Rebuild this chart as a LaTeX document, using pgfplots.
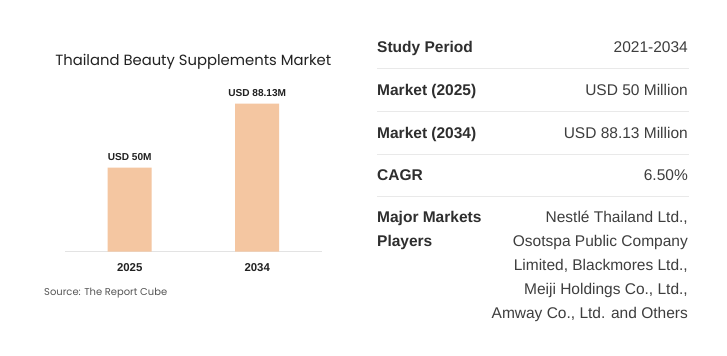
\documentclass[border=0pt]{standalone}
\usepackage{fontspec}
\setmainfont{Liberation Sans}
\newfontfamily\titlefont{Poppins}
\usepackage{pgfplots}
\pgfplotsset{compat=1.18}
\definecolor{barc}{HTML}{F4C6A1}
\definecolor{labc}{HTML}{2E2E2E}
\definecolor{valc}{HTML}{3E3E3E}
\definecolor{rulec}{HTML}{E9E9E9}
\definecolor{basec}{HTML}{E3E3E3}
\definecolor{srcc}{HTML}{555555}
\definecolor{titc}{HTML}{222222}
\begin{document}
\begin{tikzpicture}[x=1bp,y=1bp]
\fill[white] (0,0) rectangle (727,355);
\begin{axis}[
  at={(65bp,103.3bp)}, anchor=south west,
  scale only axis, width=257bp, height=168bp,
  xmin=-0.5075, xmax=1.508, ymin=0, ymax=100,
  ybar, bar width=44bp,
  axis y line=none, axis x line=bottom,
  x axis line style={-, draw=basec, line width=1bp},
  major tick length=0pt,
  xtick={0,1}, xticklabels={2025,2034},
  ytick=\empty,
  xticklabel style={anchor=base, yshift=-19.3bp, font=\fontsize{11.4bp}{13bp}\selectfont\bfseries, text=titc},
  nodes near coords,
  point meta=explicit symbolic,
  nodes near coords style={anchor=base, yshift=7bp, font=\fontsize{10.1bp}{12bp}\selectfont\bfseries, text=titc},
  clip=false,
]
\addplot[fill=barc, draw=none] coordinates {(0,50) [USD 50M] (1,88.13) [USD 88.13M]};
\end{axis}
\node[anchor=base, font=\titlefont\fontsize{14.8bp}{17bp}\selectfont, text=titc, inner sep=0] at (193.3,{355-65.7}) {Thailand Beauty Supplements Market};
\node[anchor=base west, font=\titlefont\fontsize{9.95bp}{11bp}\selectfont, text=srcc, inner sep=0] at (44,{355-295}) {Source: The Report Cube};
% table
\foreach \yy in {68.5,111.2,154,196.5} {\draw[rulec, line width=1bp] (377,{355-\yy}) -- (689,{355-\yy});}
\tikzset{lab/.style={anchor=base west, inner sep=0, text=labc, font=\fontsize{15.5bp}{18bp}\selectfont\bfseries},
         val/.style={anchor=base east, inner sep=0, text=valc, font=\fontsize{15.5bp}{18bp}\selectfont}}
\node[lab] at (377,{355-52.5}) {Study Period};
\node[val] at (688,{355-52.5}) {2021-2034};
\node[lab] at (377,{355-95.2}) {Market (2025)};
\node[val] at (688,{355-95.2}) {USD 50 Million};
\node[lab] at (377,{355-138}) {Market (2034)};
\node[val] at (688,{355-138}) {USD 88.13 Million};
\node[lab] at (377,{355-180.7}) {CAGR};
\node[val] at (688,{355-180.7}) {6.50\%};
\node[lab] at (377,{355-222.7}) {Major Markets};
\node[lab] at (377,{355-246.7}) {Players};
\node[val] at (688,{355-222.7}) {Nestlé Thailand Ltd.,};
\node[val] at (688,{355-246.7}) {Osotspa Public Company};
\node[val] at (688,{355-270.7}) {Limited, Blackmores Ltd.,};
\node[val] at (688,{355-294.7}) {Meiji Holdings Co., Ltd.,};
\node[val] at (688,{355-318.7}) {Amway Co., Ltd. and Others};
\pgfresetboundingbox
\path[use as bounding box] (0,0) rectangle (727,355);
\end{tikzpicture}
\end{document}
